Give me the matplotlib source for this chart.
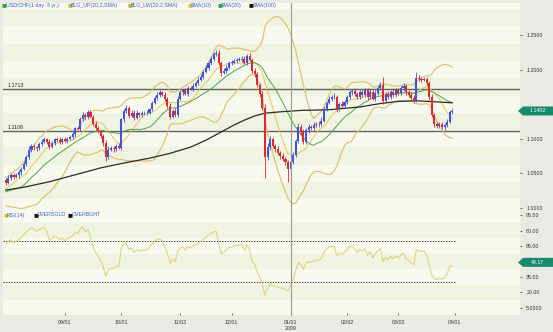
import numpy as np
import pandas as pd
import matplotlib
matplotlib.use('Agg')
import matplotlib.pyplot as plt
from matplotlib.patches import Polygon

plt.rcParams['font.family'] = ['Liberation Sans', 'DejaVu Sans']

# USD/CHF daily closes 2008-07-30 .. 2009-03-31
close = [1.036, 1.044, 1.048, 1.045, 1.047, 1.052, 1.057, 1.064, 1.073, 1.084,
         1.089, 1.088, 1.086, 1.093, 1.096, 1.099, 1.096, 1.088, 1.094, 1.099,
         1.098, 1.096, 1.099, 1.097, 1.100, 1.103, 1.107, 1.115, 1.114, 1.128,
         1.135, 1.131, 1.139, 1.132, 1.122, 1.115, 1.111, 1.104, 1.094, 1.074,
         1.084, 1.087, 1.085, 1.090, 1.087, 1.128, 1.140, 1.145, 1.133, 1.138,
         1.130, 1.137, 1.135, 1.137, 1.137, 1.138, 1.143, 1.152, 1.159, 1.164,
         1.167, 1.164, 1.157, 1.148, 1.132, 1.140, 1.135, 1.158, 1.167, 1.170,
         1.165, 1.174, 1.172, 1.177, 1.181, 1.185, 1.190, 1.197, 1.202, 1.209,
         1.216, 1.222, 1.224, 1.210, 1.195, 1.198, 1.203, 1.210, 1.210, 1.212,
         1.214, 1.214, 1.216, 1.210, 1.220, 1.214, 1.198, 1.193, 1.178, 1.165,
         1.145, 1.074, 1.088, 1.099, 1.090, 1.085, 1.079, 1.075, 1.071, 1.066,
         1.056, 1.067, 1.077, 1.097, 1.117, 1.110, 1.096, 1.112, 1.117, 1.115,
         1.120, 1.122, 1.121, 1.126, 1.143, 1.152, 1.158, 1.160, 1.160, 1.143,
         1.150, 1.148, 1.153, 1.160, 1.168, 1.169, 1.165, 1.160, 1.167, 1.164,
         1.170, 1.160, 1.168, 1.158, 1.166, 1.173, 1.178, 1.155, 1.165, 1.160,
         1.168, 1.163, 1.170, 1.166, 1.173, 1.176, 1.167, 1.164, 1.159, 1.156,
         1.188, 1.186, 1.185, 1.186, 1.180, 1.160, 1.135, 1.121, 1.118, 1.121,
         1.117, 1.120, 1.125, 1.139, 1.1402]

# wick lengths above / below the body, in 0.001
up_w = [3, 4, 2, 3, 4, 3, 2, 4, 3, 5, 3, 4, 2, 3, 4, 3, 2, 4, 3, 2, 3, 4, 2, 3, 3,
        3, 4, 2, 3, 4, 4, 3, 2, 3, 2, 4, 3, 2, 3, 4, 5, 3, 2, 3, 4, 2, 3, 4, 3, 4,
        3, 4, 2, 3, 3, 4, 2, 3, 3, 4, 3, 2, 4, 3, 4, 3, 5, 4, 3, 2, 4, 3, 3, 4, 3,
        4, 3, 3, 4, 3, 4, 3, 5, 4, 3, 4, 3, 3, 4, 3, 3, 4, 3, 4, 3, 4, 3, 4, 3, 3,
        4, 5, 6, 5, 4, 3, 4, 3, 4, 3, 4, 5, 4, 3, 6, 5, 4, 3, 4, 3, 4, 3, 4, 5, 4,
        3, 4, 3, 6, 4, 3, 4, 3, 4, 3, 3, 4, 3, 4, 3, 4, 3, 4, 3, 4, 3, 4, 12, 3, 4,
        3, 4, 3, 4, 3, 4, 3, 4, 3, 4, 8, 4, 3, 4, 3, 4, 5, 3, 4, 3, 4, 3, 4, 3, 4]
dn_w = [3, 2, 4, 3, 2, 3, 4, 2, 3, 2, 3, 4, 3, 2, 3, 2, 4, 3, 2, 3, 2, 3, 4, 2, 3,
        2, 3, 4, 2, 3, 2, 4, 3, 2, 4, 3, 2, 3, 4, 6, 3, 2, 4, 3, 2, 3, 4, 2, 3, 2,
        3, 2, 3, 4, 2, 3, 2, 3, 2, 3, 4, 2, 3, 4, 3, 2, 4, 3, 2, 3, 2, 3, 2, 3, 2,
        3, 2, 3, 2, 3, 2, 3, 2, 3, 4, 2, 3, 2, 3, 2, 3, 2, 3, 2, 3, 2, 3, 4, 3, 4,
        3, 31, 5, 4, 3, 4, 3, 4, 3, 4, 18, 4, 3, 4, 3, 5, 4, 3, 4, 3, 2, 3, 4, 3, 2,
        3, 2, 3, 2, 4, 3, 2, 3, 2, 3, 4, 3, 2, 3, 4, 3, 4, 3, 2, 3, 2, 3, 4, 3, 2,
        3, 2, 3, 2, 3, 2, 3, 4, 3, 4, 3, 2, 3, 2, 3, 4, 3, 4, 3, 2, 3, 4, 3, 2, 3]

# closes before the window (not drawn, only for the indicators)
warm = [1.017, 1.021, 1.022, 1.028, 1.033, 1.026, 1.020, 1.013, 1.009, 1.004,
        1.011, 1.020, 1.024, 1.018, 1.012, 1.026, 1.033, 1.039, 1.034, 1.040]

# SMA(100) (bar index, value)
sma100_day = [0, 7, 17, 27, 37, 46, 56, 64, 72, 78, 83, 89, 93, 97, 101, 107,
              115, 126, 138, 146, 153, 160, 165, 174]
sma100_val = [1.026, 1.030, 1.038, 1.048, 1.058, 1.065, 1.072, 1.079, 1.088,
              1.098, 1.108, 1.120, 1.127, 1.133, 1.137, 1.139, 1.141, 1.142,
              1.146, 1.151, 1.154, 1.155, 1.154, 1.152]

level_hi = 1.1713
level_lo = 1.1108
last_px = 1.1402
last_rsi = 49.17
tick_dates = ['2008-09-01', '2008-10-01', '2008-11-03', '2008-12-01',
              '2009-01-01', '2009-02-02', '2009-03-02', '2009-04-01']
tick_labels = ['09/01', '10/01', '11/03', '12/01', '01/01\n2009', '02/02', '03/02', '04/01']
price_ticks = [1.0, 1.05, 1.10, 1.20, 1.25]
rsi_ticks = [5, 20, 35, 65, 80, 95]

days = pd.bdate_range('2008-07-30', '2009-04-01')
n = len(close)
x = np.arange(n)

s = pd.Series(warm + close)
k0 = len(warm)
sma10 = s.rolling(10).mean().values[k0:]
sma20 = s.rolling(20).mean().values[k0:]
sd20 = s.rolling(20).std(ddof=0).values[k0:]
bb_up = sma20 + 2 * sd20
bb_lw = sma20 - 2 * sd20
d = s.diff()
gain = d.clip(lower=0).ewm(alpha=1 / 14, adjust=False).mean()
loss = (-d.clip(upper=0)).ewm(alpha=1 / 14, adjust=False).mean()
rsi = (100 - 100 / (1 + gain / loss)).values[k0:]

c = np.array(close)
o = np.array([warm[-1]] + close[:-1])
hi = np.maximum(o, c) + np.array(up_w) / 1000
lo = np.minimum(o, c) - np.array(dn_w) / 1000

W, H = 553, 332
fig = plt.figure(figsize=(W / 100, H / 100), dpi=100)
fig.patch.set_facecolor('#ebe9e4')
ax = fig.add_axes([3 / W, 1 - 211 / H, 517 / W, 208 / H])
ax2 = fig.add_axes([3 / W, 1 - 315 / H, 517 / W, 104 / H])

bg1, bg2 = '#f7f9ee', '#eff3e1'
for a in (ax, ax2):
    a.set_facecolor(bg1)
    for sp in a.spines.values():
        sp.set_visible(False)
    a.set_xlim(-1.1, 200.4)

lv = 0.9625
i = 0
while lv < 1.30:
    ax.axhspan(lv, lv + 0.025, color=bg2 if i % 2 == 0 else bg1, lw=0, zorder=0)
    lv += 0.025
    i += 1
lv = -17.5
i = 0
while lv < 100:
    ax2.axhspan(lv, lv + 15, color=bg2 if i % 2 == 0 else bg1, lw=0, zorder=0)
    lv += 15
    i += 1

ax.set_ylim(0.9957, 1.2962)
ax2.set_ylim(-1.8, 98.9)

# candles
col = np.where(c >= o, '#3f52e6', '#e3262b')
ax.vlines(x, lo, hi, colors=col, lw=0.6, zorder=4)
ax.bar(x, np.maximum(np.abs(c - o), 0.0010), bottom=np.minimum(o, c), width=0.8,
       color=col, lw=0, zorder=5)

ax.plot(x, bb_up, color='#dcbf66', lw=0.8, zorder=3)
ax.plot(x, bb_lw, color='#dcbf66', lw=0.8, zorder=3)
ax.plot(x, sma10, color='#e7c64f', lw=0.7, zorder=3)
ax.plot(x, sma20, color='#4fa447', lw=0.7, zorder=3)
ax.plot(sma100_day, sma100_val, color='#2a2a2a', lw=0.9, zorder=3)

ax.axhline(level_hi, color='#606060', lw=1.0, zorder=2)
ax.axhline(level_lo, color='#606060', lw=1.0, zorder=2)
ax.text(0.6, level_hi + 0.002, '%.4f' % level_hi, fontsize=3.8, color='#222222', va='bottom')
ax.text(0.6, level_lo + 0.002, '%.4f' % level_lo, fontsize=3.8, color='#222222', va='bottom')

# RSI panel
ax2.plot(x, rsi, color='#e2d27c', lw=0.8, zorder=3)
ax2.hlines([70, 30], -1.1, n, colors='#111111', lw=0.6, linestyles=(0, (1.6, 1.6)), zorder=2)

jan = days.get_loc(pd.Timestamp('2009-01-01'))
for a in (ax, ax2):
    a.axvline(jan, color='#9a9a90', lw=0.8, zorder=6)

# axes ticks
for a, tk, fmt in ((ax, price_ticks, '%.4f'), (ax2, rsi_ticks, '%.2f')):
    a.yaxis.tick_right()
    a.set_yticks(tk)
    a.set_yticklabels([fmt % t if t != 5 else '5.0000' for t in tk])
    a.tick_params(axis='y', labelsize=3.8, length=1.5, width=0.5, pad=3,
                  colors='#333333', direction='out')
ax.set_xticks([])
tpos = [days.get_loc(pd.Timestamp(t)) for t in tick_dates]
ax2.set_xticks(tpos)
ax2.set_xticklabels(tick_labels)
ax2.tick_params(axis='x', labelsize=3.8, length=1.5, width=0.5, pad=3.5,
                direction='in', colors='#333333')


# last value flags, drawn in figure pixels at the data level
def flag(a, val, txt):
    ypx = a.transData.transform((0, val))[1]
    pts = [(518, ypx), (523, ypx + 4.5), (553, ypx + 4.5), (553, ypx - 4.5), (523, ypx - 4.5)]
    fig.patches.append(Polygon([(px / W, py / H) for px, py in pts], closed=True,
                               transform=fig.transFigure, fc='#178a6c', ec='none'))
    fig.text(538 / W, ypx / H, txt, color='white', fontsize=3.8, ha='center', va='center')


flag(ax, last_px, '%.4f' % last_px)
flag(ax2, last_rsi, '%.2f' % last_rsi)


# legends
def legend_row(items, ypx):
    for xpx, colr, lab in items:
        fig.text(xpx / W, 1 - ypx / H, '\u25a0', color=colr, fontsize=3.8,
                 va='center', family='DejaVu Sans')
        fig.text((xpx + 4) / W, 1 - ypx / H, lab, color='#3b64d0', fontsize=3.8, va='center')


legend_row([(2, '#27a53a', 'USD/CHF(1 day  3 yr.)'),
            (67, '#c9b431', 'BLG_UP(20,2,SMA)'),
            (127, '#c9b431', 'BLG_LW(20,2,SMA)'),
            (187, '#d8c430', 'SMA(10)'),
            (217, '#27a53a', 'SMA(20)'),
            (249, '#111111', 'SMA(100)')], 5)
legend_row([(3, '#d8c430', 'RSI(14)'),
            (33, '#111111', 'OVERSOLD'),
            (68, '#111111', 'OVERBGHT')], 215)

fig.savefig('out.png', dpi=100, facecolor=fig.get_facecolor())
